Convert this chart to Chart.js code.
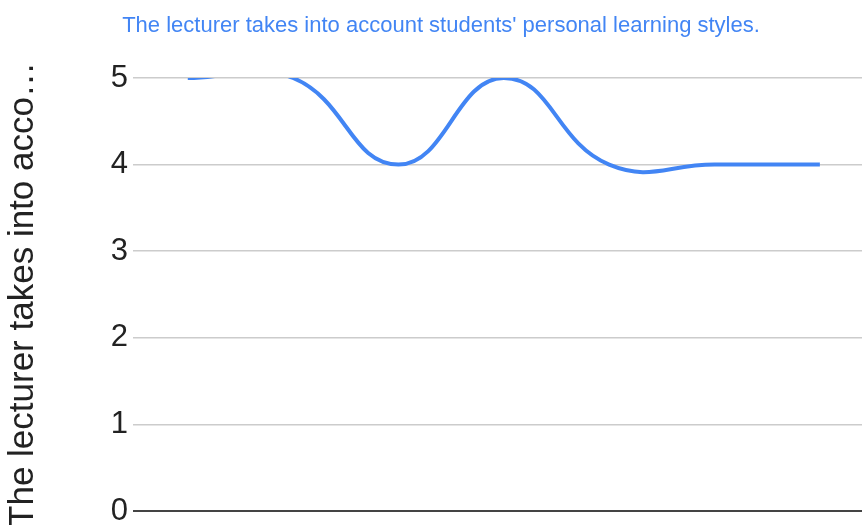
<!DOCTYPE html>
<html>
<head>
<meta charset="utf-8">
<script src="https://cdn.jsdelivr.net/npm/chart.js@4"></script>
<style>
  html, body { margin: 0; padding: 0; background: #fff; }
  #wrap { width: 862px; height: 525px; }
</style>
</head>
<body>
<div id="wrap"><canvas id="chart"></canvas></div>
<script>
// responses in submission order
const positions = [0, 1, 2, 3, 4, 5, 6]
const scores = [5, 5, 4, 5, 4, 4, 4]
const yTicks = [0, 1, 2, 3, 4, 5]

const chartTitle = "The lecturer takes into account students' personal learning styles."
const yTitle = 'The lecturer takes into acco\u2026'

// title sits a little right of the canvas centre, so draw it by hand
const titlePlugin = {
    id: 'topTitle',
    afterDraw(chart) {
        const c = chart.ctx
        c.save()
        c.fillStyle = '#4285f4'
        c.font = '22px "Liberation Sans", Arial, sans-serif'
        c.textAlign = 'center'
        c.textBaseline = 'middle'
        c.fillText(chartTitle, 441, 26)
        c.restore()
    }
}

const ctx = document.getElementById('chart')

new Chart(ctx, {
    type: 'line',
    data: {
        datasets: [{
            data: positions.map((x, i) => ({ x: x, y: scores[i] })),
            borderColor: '#4285f4',
            borderWidth: 4,
            tension: 0.45,
            pointRadius: 0,
            pointHoverRadius: 0,
            fill: false,
            clip: 0
        }]
    },
    options: {
        responsive: true,
        maintainAspectRatio: false,
        animation: false,
        elements: { line: { capBezierPoints: false } },
        layout: { padding: { left: 0, right: 0, top: 78, bottom: 14 } },
        plugins: {
            legend: { display: false },
            tooltip: { enabled: false },
            title: { display: false }
        },
        scales: {
            x: {
                type: 'linear',
                min: -0.52,
                max: 6.4,
                ticks: { display: false },
                grid: { display: false },
                border: { display: false },
                afterFit: (scale) => {
                    scale.height = 0
                }
            },
            y: {
                min: 0,
                max: 5,
                afterBuildTicks: (scale) => {
                    scale.ticks = yTicks.map((v) => ({ value: v }))
                },
                afterFit: (scale) => {
                    scale.width = 133
                    scale.paddingTop = 0
                    scale.paddingBottom = 0
                },
                ticks: {
                    color: '#222',
                    padding: 5,
                    font: { family: 'Liberation Sans, Arial, sans-serif', size: 31 }
                },
                grid: {
                    color: (c) => c.tick && c.tick.value === 0 ? '#444' : '#cccccc',
                    lineWidth: (c) => c.tick && c.tick.value === 0 ? 2 : 1.5,
                    drawTicks: false
                },
                border: { display: false },
                title: {
                    display: true,
                    text: yTitle,
                    color: '#222',
                    font: { family: 'Liberation Sans, Arial, sans-serif', size: 35 },
                    padding: { top: 2, bottom: 0 }
                }
            }
        }
    },
    plugins: [titlePlugin]
})
</script>
</body>
</html>
